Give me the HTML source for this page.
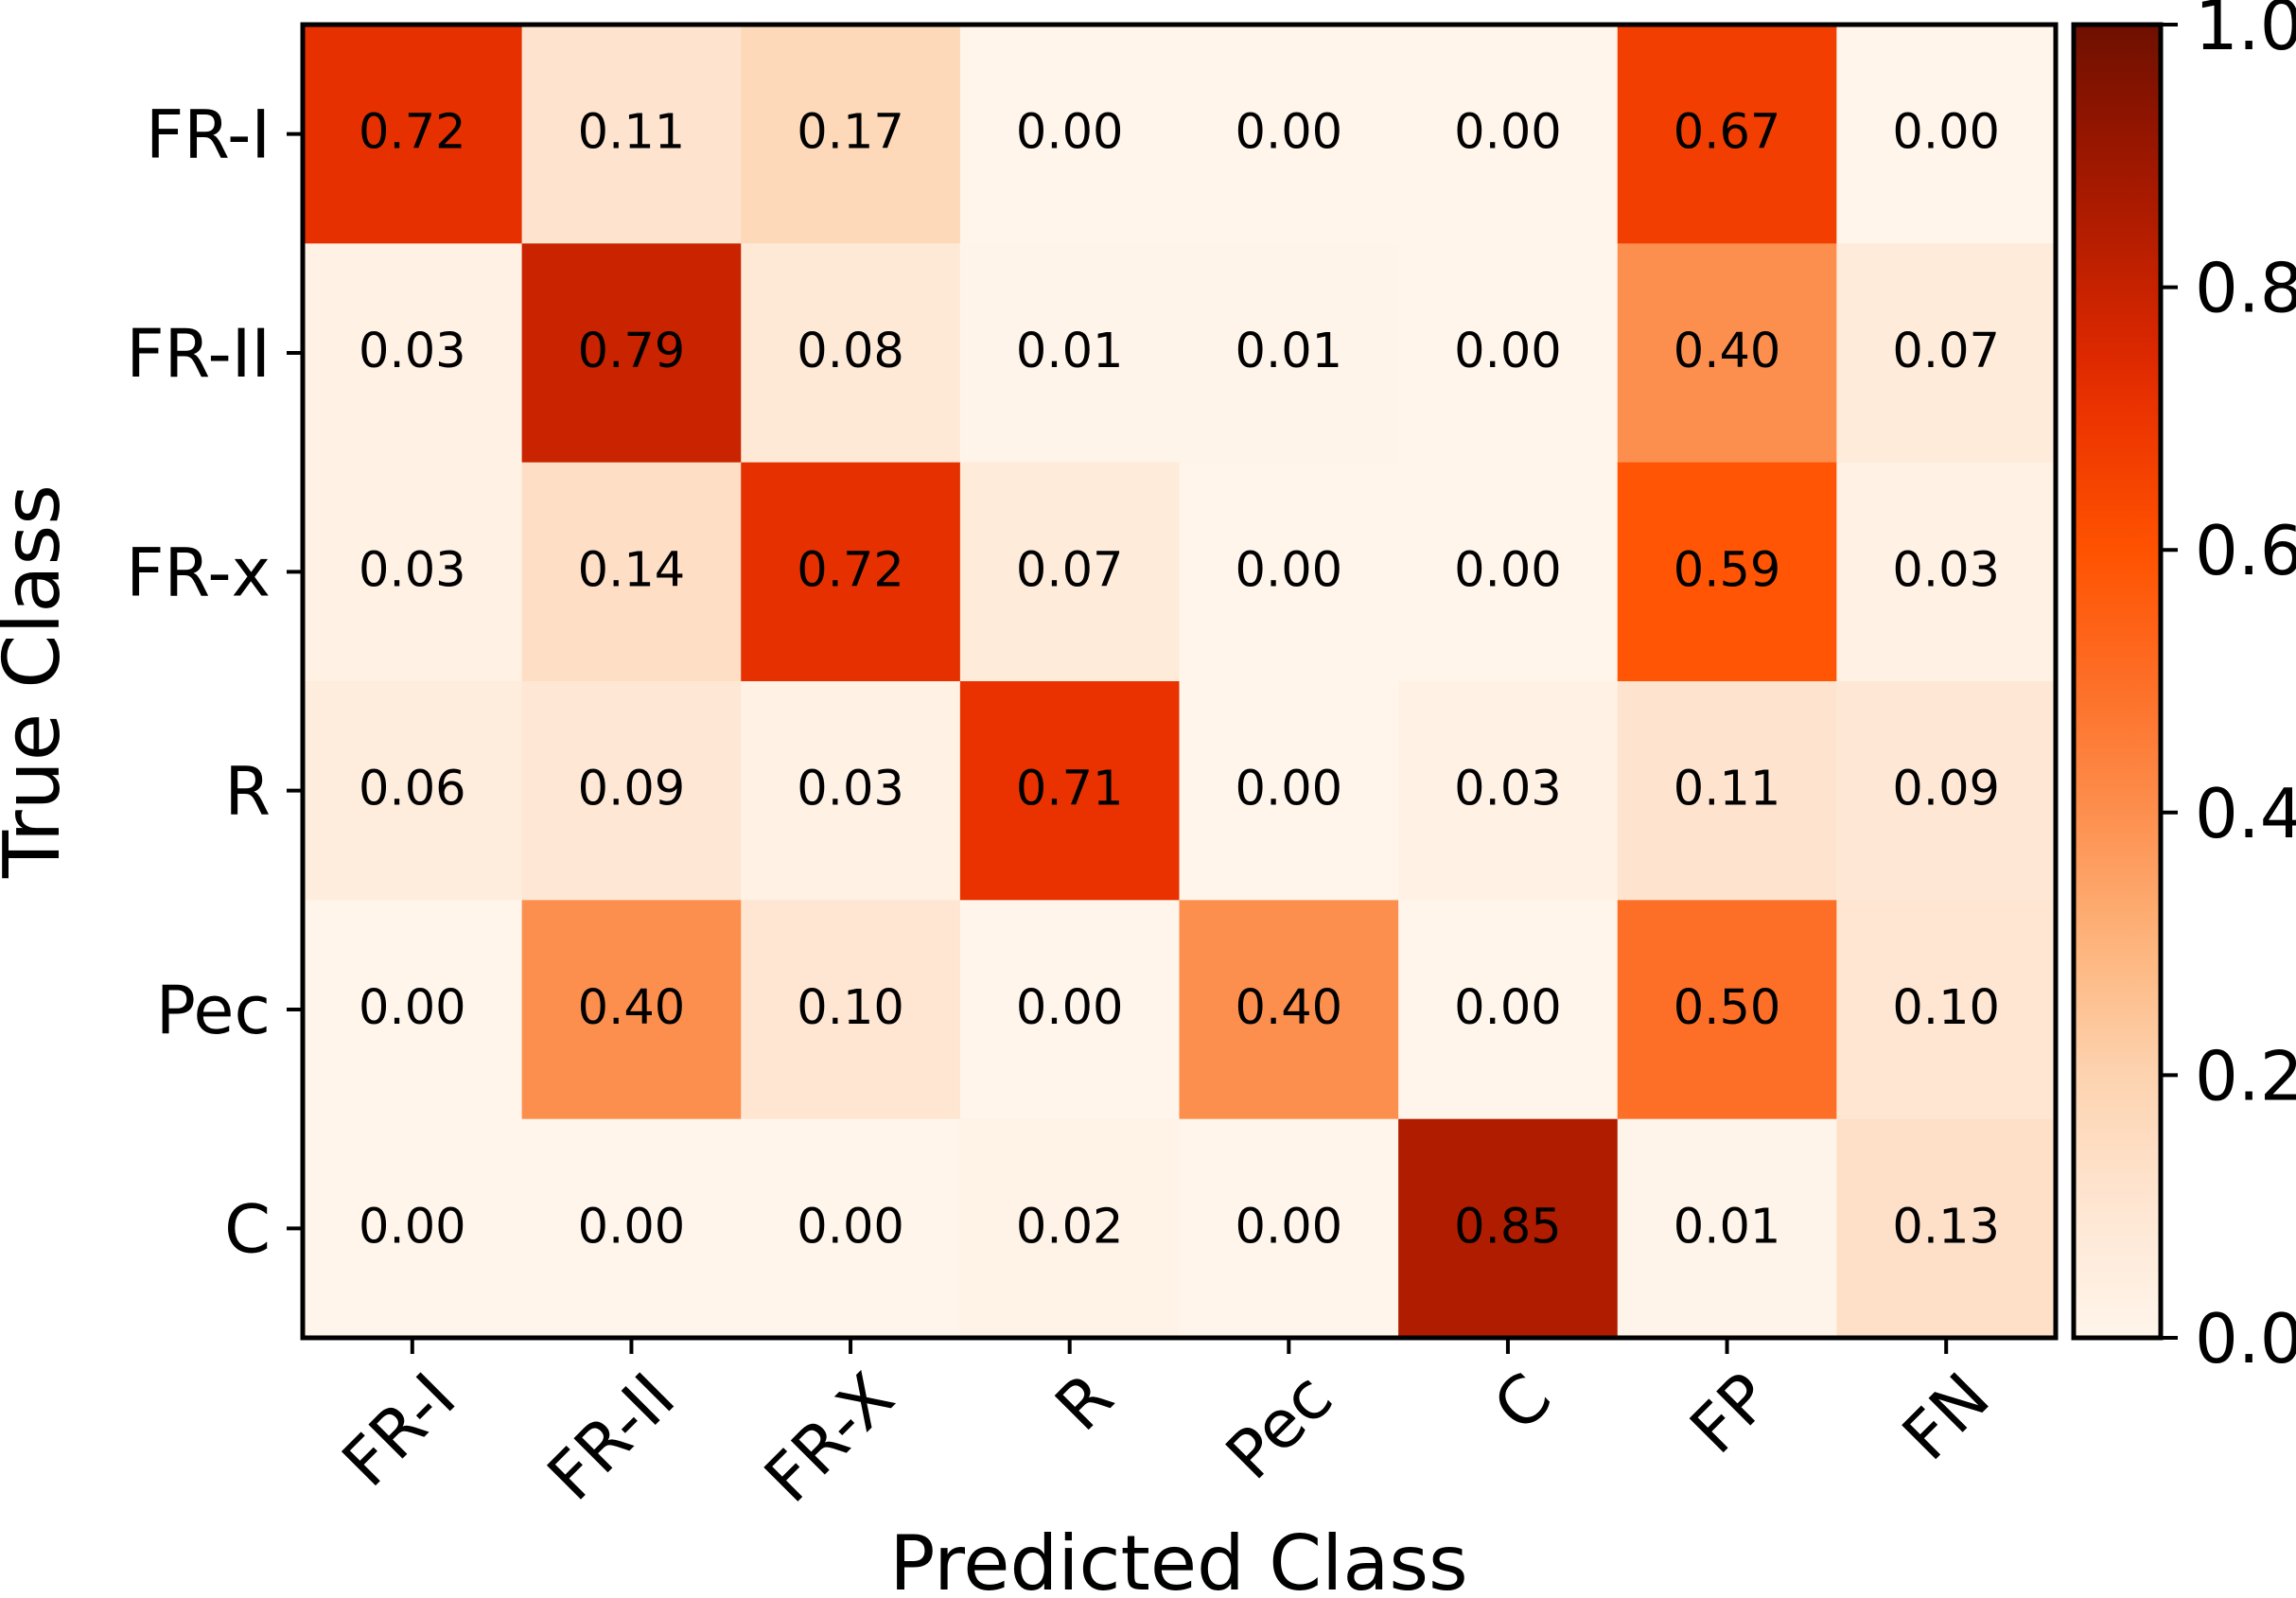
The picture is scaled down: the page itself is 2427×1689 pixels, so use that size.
<!DOCTYPE html>
<html><head><meta charset="utf-8"><style>
html,body{margin:0;padding:0;background:#fff;}
svg{display:block;font-family:"DejaVu Sans","Liberation Sans",sans-serif;}
</style></head><body>
<svg id="chart" width="2427" height="1689" viewBox="0 0 2427 1689" xmlns="http://www.w3.org/2000/svg">
<defs>
<linearGradient id="cbar" x1="0" y1="1" x2="0" y2="0">
<stop offset="0" stop-color="#fff5eb"/>
<stop offset="0.1" stop-color="#fee6d2"/>
<stop offset="0.2" stop-color="#fdd3b0"/>
<stop offset="0.3" stop-color="#fdb47c"/>
<stop offset="0.4" stop-color="#fd8f4e"/>
<stop offset="0.5" stop-color="#fd6e26"/>
<stop offset="0.6" stop-color="#ff5200"/>
<stop offset="0.7" stop-color="#ec3500"/>
<stop offset="0.75" stop-color="#dc2800"/>
<stop offset="0.85" stop-color="#b01c00"/>
<stop offset="0.92" stop-color="#931500"/>
<stop offset="1" stop-color="#6e1000"/>
</linearGradient>
</defs>
<g id="cells"></g>
<g id="labels"></g>
<rect x="320" y="26" width="1853" height="1388" fill="none" stroke="#000" stroke-width="5"/>
<g id="yticks"></g>
<g id="xticks"></g>
<text x="1246" y="1680" font-size="80" text-anchor="middle" fill="#000">Predicted Class</text>
<text transform="translate(62,720) rotate(-90)" font-size="82" text-anchor="middle" fill="#000">True Class</text>
<rect x="2192" y="26" width="92" height="1388" fill="url(#cbar)" stroke="#000" stroke-width="5"/>
<g id="cbticks"></g>
</svg>
<script>
const rowLabels = ["FR-I","FR-II","FR-x","R","Pec","C"];
const colLabels = ["FR-I","FR-II","FR-X","R","Pec","C","FP","FN"];
const row0 = [0.72,0.11,0.17,0.00,0.00,0.00,0.67,0.00];
const row1 = [0.03,0.79,0.08,0.01,0.01,0.00,0.40,0.07];
const row2 = [0.03,0.14,0.72,0.07,0.00,0.00,0.59,0.03];
const row3 = [0.06,0.09,0.03,0.71,0.00,0.03,0.11,0.09];
const row4 = [0.00,0.40,0.10,0.00,0.40,0.00,0.50,0.10];
const row5 = [0.00,0.00,0.00,0.02,0.00,0.85,0.01,0.13];
const cbTicks = [0.0,0.2,0.4,0.6,0.8,1.0];
const matrix = [row0,row1,row2,row3,row4,row5];

const X0=320, X1=2173, Y0=26, Y1=1414;
const cw=(X1-X0)/colLabels.length, ch=(Y1-Y0)/rowLabels.length;
const xPos = i => X0 + i*cw;
const yPos = j => Y0 + j*ch;
const cbY = v => Y1 - v*(Y1-Y0);
const stops=[[0,[255,245,235]],[0.1,[254,230,210]],[0.2,[253,211,176]],[0.3,[253,180,124]],[0.4,[253,143,78]],[0.5,[253,110,38]],[0.6,[255,82,0]],[0.7,[236,53,0]],[0.75,[220,40,0]],[0.85,[176,28,0]],[0.92,[147,21,0]],[1,[110,16,0]]];
function cmap(v){v=Math.max(0,Math.min(1,v));for(let k=1;k<stops.length;k++){if(v<=stops[k][0]){const a=stops[k-1],b=stops[k];const t=(v-a[0])/(b[0]-a[0]);const c=a[1].map((x,i)=>Math.round(x+(b[1][i]-x)*t));return `rgb(${c})`;}}return 'rgb(110,16,0)';}
const NS="http://www.w3.org/2000/svg";
function mk(tag,attrs,parent,text){const e=document.createElementNS(NS,tag);for(const k in attrs)e.setAttribute(k,attrs[k]);if(text!==undefined)e.textContent=text;parent.appendChild(e);return e;}
const gc=document.getElementById('cells'), gl=document.getElementById('labels');
matrix.forEach((row,j)=>row.forEach((v,i)=>{
  const r=mk('rect',{x:xPos(i),y:yPos(j),width:cw+0.5,height:ch+0.5,fill:cmap(v)},gc);
  
  
  const t=mk('text',{x:xPos(i)+cw/2,y:yPos(j)+ch/2+15,'font-size':51,'text-anchor':'middle',fill:'#000'},gl,v.toFixed(2));
  
  
}));
const gy=document.getElementById('yticks');
rowLabels.forEach((l,j)=>{const y=yPos(j)+ch/2;
  mk('line',{x1:303,x2:320,y1:y,y2:y,stroke:'#000','stroke-width':4},gy);
  const t=mk('text',{x:286,y:y+25,'font-size':70,'text-anchor':'end',fill:'#000'},gy,l);
  
  
});
const gx=document.getElementById('xticks');
colLabels.forEach((l,i)=>{const x=xPos(i)+cw/2;
  mk('line',{x1:x,x2:x,y1:1414,y2:1431,stroke:'#000','stroke-width':4},gx);
  const t=mk('text',{transform:`translate(${x+14},${1446}) rotate(-45)`,'font-size':70,'text-anchor':'end',dy:'0.72em',fill:'#000'},gx,l);
  
  
});
const gcb=document.getElementById('cbticks');
cbTicks.forEach(v=>{const y=cbY(v);
  mk('line',{x1:2284,x2:2302,y1:y,y2:y,stroke:'#000','stroke-width':4},gcb);
  const t=mk('text',{x:2320,y:y+26,'font-size':72,fill:'#000'},gcb,v.toFixed(1));
  
  
});
</script>
</body></html>
